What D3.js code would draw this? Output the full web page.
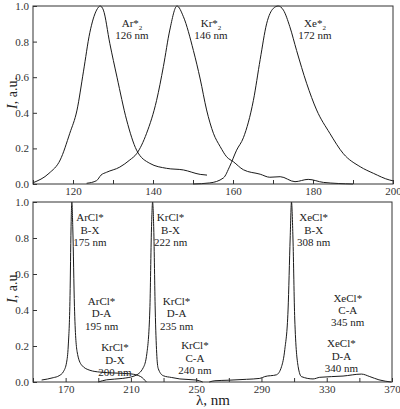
<!DOCTYPE html>
<html>
<head>
<meta charset="utf-8">
<script src="https://cdn.jsdelivr.net/npm/d3@7"></script>
<style>
  body { margin: 0; background: #fff; }
  svg { display: block; }
  svg text { font-family: "Liberation Serif", "Times New Roman", serif; }
  .tick text { fill: #333; font-size: 11px; }
  .tick line { stroke: #333; }
  .lbl { fill: #222; font-size: 11px; }
</style>
</head>
<body>
<div id="chart"></div>
<script>
const W = 400
const H = 409

// top panel: rare gas dimers [nm, I]
const ar2 = [[110,0.007],[114,0.06],[116.8,0.135],[119.2,0.285],[121,0.415],[122.6,0.63],[124.2,0.85],[125.9,0.977],[126.8,1.0],[127.6,0.977],[129.2,0.79],[131,0.6],[133.4,0.36],[135.9,0.19],[139.2,0.116],[143.4,0.088],[147.6,0.079],[151.8,0.054],[153.5,0.05]]
const kr2 = [[123.4,0.004],[125.9,0.019],[127,0.05],[128.4,0.066],[131.7,0.095],[134.2,0.135],[135.9,0.17],[138.4,0.285],[140.9,0.47],[142.6,0.66],[144.2,0.865],[146,1.0],[147.6,0.94],[150.1,0.75],[151.8,0.59],[153.4,0.416],[155.1,0.285],[156.8,0.21],[158.4,0.153],[160.1,0.125],[162.6,0.08],[166.8,0.055],[169.2,0.038],[171.8,0.041],[175.5,0.013],[178.8,0.026],[182.6,0.009],[190,0.0]]
const xe2 = [[150,0.0],[154.2,0.006],[157.6,0.034],[159.2,0.1],[160.9,0.19],[162.6,0.26],[165.1,0.47],[166.8,0.7],[168.4,0.9],[170.1,0.987],[171.3,1.0],[172.6,0.977],[174.2,0.884],[175.9,0.75],[178.4,0.566],[180.9,0.416],[184.2,0.285],[187.6,0.17],[191.8,0.097],[195.1,0.06],[199.2,0.022],[200,0.018]]

// bottom panel: rare gas chlorides [nm, I]
const arcl = [[155.3,0.011],[162.4,0.024],[166,0.035],[168.6,0.057],[170.6,0.11],[171.6,0.2],[172.7,0.48],[173.3,0.85],[173.8,1.0],[174.4,0.85],[175.4,0.42],[177,0.17],[179.8,0.094],[184.9,0.065],[191,0.055],[200,0.05],[210,0.045],[216,0.03],[219.5,0.0]]
const krcl = [[190,0.0],[195,0.012],[205,0.02],[212.5,0.035],[217.6,0.08],[219.8,0.16],[221.6,0.4],[222.6,0.85],[223.3,1.0],[224,0.85],[224.9,0.4],[225.8,0.16],[226.7,0.076],[229.8,0.035],[235,0.025],[240,0.017],[250,0.011],[254,0.0]]
const xecl = [[258,0.0],[261.5,0.007],[270,0.01],[280.9,0.015],[289,0.02],[292,0.03],[299.2,0.04],[302.3,0.085],[304.3,0.18],[306.3,0.4],[307.6,0.8],[308.4,1.0],[309.3,0.8],[310.4,0.35],[312.5,0.085],[314.5,0.03],[321.6,0.017],[325.7,0.026],[340,0.033],[351.3,0.044],[356.4,0.03],[362,0.012],[369.6,0.0]]

const topTicks = [110,120,130,140,150,160,170,180,190,200]
const topLabeled = [120,140,160,180,200]
const botTicks = [150,170,190,210,230,250,270,290,310,330,350,370]
const botLabeled = [170,210,250,290,330,370]
const yTicks = [0,0.2,0.4,0.6,0.8,1.0]

// labels: lines, anchor [nm, I] of first baseline
const topNotes = [
  { lines: [['Ar*', '2'], '126 nm'], at: [134.75, 0.882] },
  { lines: [['Kr*', '2'], '146 nm'], at: [154.5, 0.882] },
  { lines: [['Xe*', '2'], '172 nm'], at: [180.5, 0.882] }
]
const botNotes = [
  { lines: ['ArCl*', 'B-X', '175 nm'], at: [184.9, 0.892] },
  { lines: ['KrCl*', 'B-X', '222 nm'], at: [234.3, 0.892] },
  { lines: ['XeCl*', 'B-X', '308 nm'], at: [322, 0.892] },
  { lines: ['ArCl*', 'D-A', '195 nm'], at: [192, 0.428] },
  { lines: ['KrCl*', 'D-A', '235 nm'], at: [238, 0.428] },
  { lines: ['XeCl*', 'C-A', '345 nm'], at: [342.9, 0.446] },
  { lines: ['KrCl*', 'D-X', '200 nm'], at: [200.2, 0.171] },
  { lines: ['KrCl*', 'C-A', '240 nm'], at: [249.2, 0.181] },
  { lines: ['XeCl*', 'D-A', '340 nm'], at: [339, 0.193] }
]

const svg = d3.select('#chart').append('svg')
  .attr('width', W)
  .attr('height', H)

function panel(cfg) {
  const x = d3.scaleLinear().domain(cfg.xDomain).range([cfg.left, cfg.right])
  const y = d3.scaleLinear().domain([0, 1]).range([cfg.bottom, cfg.top])
  const g = svg.append('g')

  const xAxis = d3.axisBottom(x)
    .tickValues(cfg.ticks)
    .tickFormat(d => cfg.labeled.includes(d) ? d : '')
    .tickSizeInner(-4).tickSizeOuter(0).tickPadding(3)
  const yAxis = d3.axisLeft(y)
    .tickValues(yTicks)
    .tickFormat(d3.format('.1f'))
    .tickSizeInner(-4).tickSizeOuter(0).tickPadding(4)

  g.append('g').attr('transform', `translate(0,${cfg.bottom})`).call(xAxis)
    .call(a => a.select('.domain').remove())
  g.append('g').attr('transform', `translate(${cfg.left},0)`).call(yAxis)
    .call(a => a.select('.domain').remove())

  const line = d3.line()
    .x(d => x(d[0]))
    .y(d => y(d[1]))
    .curve(d3.curveMonotoneX)

  g.selectAll('path.spec')
    .data(cfg.series)
    .enter()
    .append('path')
    .attr('class', 'spec')
    .attr('d', line)
    .attr('fill', 'none')
    .attr('stroke', '#1a1a1a')
    .attr('stroke-width', 1)

  g.append('rect')
    .attr('x', cfg.left).attr('y', cfg.top)
    .attr('width', cfg.right - cfg.left)
    .attr('height', cfg.bottom - cfg.top)
    .attr('fill', 'none')
    .attr('stroke', '#333')
    .attr('stroke-width', 1)

  cfg.notes.forEach(n => {
    const t = g.append('text')
      .attr('class', 'lbl')
      .attr('text-anchor', 'middle')
      .attr('x', x(n.at[0]))
      .attr('y', y(n.at[1]))
    n.lines.forEach((ln, i) => {
      const dy = i === 0 ? 0 : cfg.lineH
      if (Array.isArray(ln)) {
        t.append('tspan').attr('x', x(n.at[0])).attr('dy', dy).text(ln[0])
        t.append('tspan').attr('font-size', '7px').attr('dy', 3).text(ln[1])
      } else {
        const prevSub = i > 0 && Array.isArray(n.lines[i - 1])
        t.append('tspan').attr('x', x(n.at[0])).attr('dy', prevSub ? dy - 3 : dy).text(ln)
      }
    })
  })

  // y title
  const yt = svg.append('text')
    .attr('transform', `translate(17,${cfg.yTitle}) rotate(-90)`)
    .attr('text-anchor', 'middle')
    .attr('font-size', '14px')
    .attr('fill', '#222')
  yt.append('tspan').attr('font-style', 'italic').text('I')
  yt.append('tspan').text(', a.u.')
}

panel({
  xDomain: [110, 200], left: 33, right: 393, top: 6, bottom: 184,
  ticks: topTicks, labeled: topLabeled, series: [ar2, kr2, xe2],
  notes: topNotes, lineH: 11.5, yTitle: 93
})

panel({
  xDomain: [150, 370], left: 33, right: 392, top: 202, bottom: 382,
  ticks: botTicks, labeled: botLabeled, series: [arcl, krcl, xecl],
  notes: botNotes, lineH: 12.3, yTitle: 287
})

svg.append('text')
  .attr('x', 196)
  .attr('y', 405)
  .attr('font-size', '15px')
  .attr('fill', '#222')
  .text('λ, nm')
</script>
</body>
</html>
